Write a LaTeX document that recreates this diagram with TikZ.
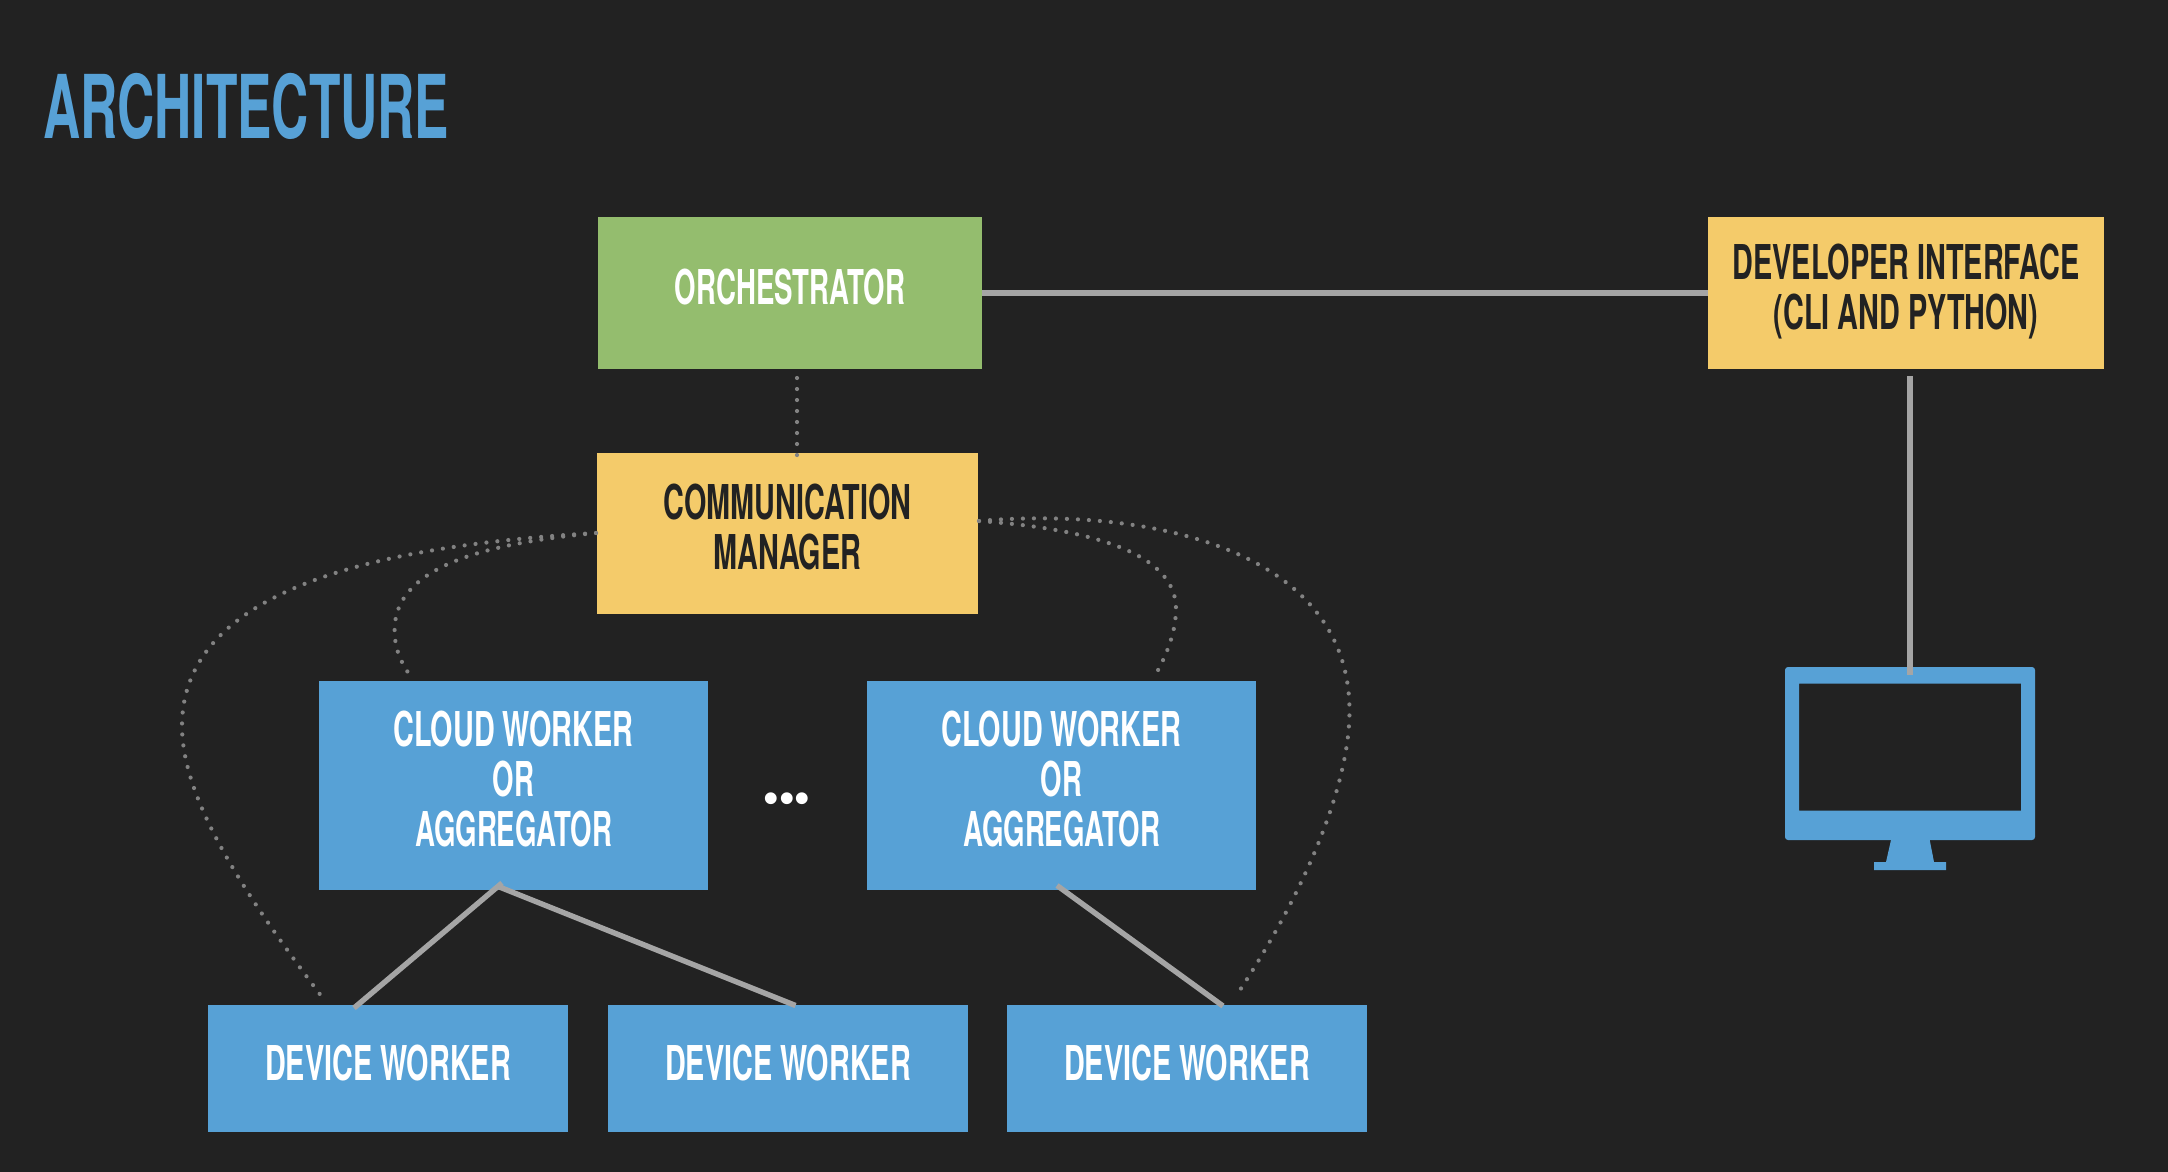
\documentclass[tikz,border=0pt]{standalone}
\usepackage{fontspec}
\setmainfont[FakeStretch=0.6]{TeX Gyre Heros Bold}
\newfontfamily\narrowfont[FakeStretch=0.575]{TeX Gyre Heros Bold}
\newfontfamily\titlefont[FakeStretch=0.585]{TeX Gyre Heros Bold}
\newfontfamily\dotfont{Fira Sans Bold}
\definecolor{bgc}{HTML}{222222}
\definecolor{bluec}{HTML}{57A1D6}
\definecolor{yellowc}{HTML}{F4CB6A}
\definecolor{greenc}{HTML}{94BD6E}
\definecolor{linec}{HTML}{A5A5A5}
\definecolor{dotc}{HTML}{828282}
\newcommand{\boxlines}[1]{\raisebox{-1.2pt}[\height][\depth]{\begin{tabular}{@{}c@{}}#1\end{tabular}}}
\newcommand{\tightword}[1]{{\narrowfont\fontsize{48}{49}\selectfont #1}}
\tikzset{
  boxbase/.style={rectangle,inner sep=0pt,outer sep=0pt,font=\fontsize{48}{49}\selectfont},
  bluebox/.style={boxbase,fill=bluec,text=white},
  yellowbox/.style={boxbase,fill=yellowc,text=bgc},
  greenbox/.style={boxbase,fill=greenc,text=white},
  solidline/.style={draw=linec,line width=5.4pt},
  dotline/.style={draw=dotc,line width=4.2pt,line cap=round,dash pattern=on 0pt off 11pt},
}
\begin{document}
\begin{tikzpicture}[x=1pt,y=-1pt]
\useasboundingbox (0,0) rectangle (2168,1172);
\fill[bgc] (0,0) rectangle (2168,1172);
\node[anchor=base west,inner sep=0pt,text=bluec,font=\titlefont\fontsize{88}{88}\selectfont] (title) at (43,138) {ARCHITECTURE};

\node[greenbox,minimum width=384pt,minimum height=152pt] (orch) at (790,293) {\boxlines{\tightword{ORCHESTRATOR}}};
\node[yellowbox,minimum width=396pt,minimum height=152pt] (dev) at (1906,293) {\boxlines{DEVELOPER INTERFACE\\(CLI AND PYTHON)}};
\node[yellowbox,minimum width=381pt,minimum height=161pt] (comm) at (787.5,533) {\boxlines{COMMUNICATION\\MANAGER}};
\node[bluebox,minimum width=389pt,minimum height=209pt] (cloudA) at (513.5,785) {\boxlines{CLOUD WORKER\\\tightword{OR}\\\tightword{AGGREGATOR}}};
\node[bluebox,minimum width=389pt,minimum height=209pt] (cloudB) at (1061.5,785) {\boxlines{CLOUD WORKER\\\tightword{OR}\\\tightword{AGGREGATOR}}};
\node[bluebox,minimum width=360pt,minimum height=127pt] (devA) at (388,1068.5) {\boxlines{DEVICE WORKER}};
\node[bluebox,minimum width=360pt,minimum height=127pt] (devB) at (788,1068.5) {\boxlines{DEVICE WORKER}};
\node[bluebox,minimum width=360pt,minimum height=127pt] (devC) at (1187,1068.5) {\boxlines{DEVICE WORKER}};
\node[anchor=base,inner sep=0pt,text=white,font=\dotfont\fontsize{65}{65}\selectfont] (ellipsis) at (787,803) {...};

% monitor
\fill[bluec,even odd rule,rounded corners=3pt] (1785,667) rectangle (2035,840) [sharp corners] (1799,683.5) rectangle (2021,810.7);
\fill[bluec] (1891,840) -- (1929.7,840) -- (1934,862) -- (1946,862) -- (1946,870) -- (1874,870) -- (1874,862) -- (1886,862) -- cycle;

% connector ends
\coordinate (devOut) at (1910,376);
\coordinate (monIn) at (1910,675);
\coordinate (cloudAOut1) at (502,883);
\coordinate (cloudAOut2) at (499.5,887);
\coordinate (devAIn) at (354,1008);
\coordinate (devBIn) at (795.5,1005.5);
\coordinate (cloudBOut) at (1057,885.5);
\coordinate (devCIn) at (1223,1006);
\coordinate (orchOut) at (797,378);
\coordinate (commIn) at (797,455.5);
\coordinate (commL) at (596,533);
\coordinate (commR) at (979,521);
\coordinate (devADot) at (322,997);
\coordinate (cloudADot) at (408,672.5);
\coordinate (cloudBDot) at (1157,672);
\coordinate (devCDot) at (1236,996);

\draw[solidline] (orch.east) -- (dev.west);
\draw[solidline] (devOut) -- (monIn);
\draw[solidline] (cloudAOut1) -- (devAIn);
\draw[solidline] (cloudAOut2) -- (devBIn);
\draw[solidline] (cloudBOut) -- (devCIn);

\draw[dotline] (orchOut) -- (commIn);
\draw[dotline] (commL) .. controls (390,545) and (182,585) .. (182,726) .. controls (182,800) and (245,895) .. (devADot);
\draw[dotline] (commL) .. controls (490,543) and (394.6,565) .. (394.6,630) .. controls (394.6,648) and (400,660) .. (cloudADot);
\draw[dotline] (commR) .. controls (1080,528) and (1176,550) .. (1176,608.5) .. controls (1176,630) and (1168,652) .. (cloudBDot);
\draw[dotline] (commR) .. controls (1140,507) and (1349.5,545) .. (1349.5,711) .. controls (1349.5,790) and (1300,900) .. (devCDot);
\end{tikzpicture}
\end{document}
